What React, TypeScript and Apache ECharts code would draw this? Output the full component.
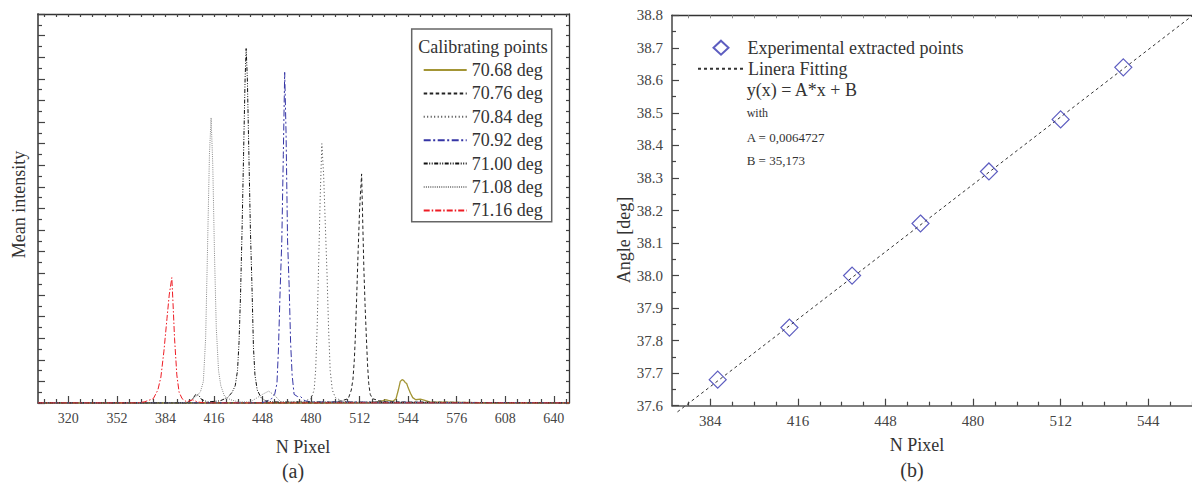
import React, { useEffect, useRef } from 'react';
import * as echarts from 'echarts';

const FONT = 'Liberation Serif';
const TXT = '#333';

// ---------- Panel (a): intensity profiles ----------
const seriesNamesA = ['70.68 deg', '70.76 deg', '70.84 deg', '70.92 deg', '71.00 deg', '71.08 deg', '71.16 deg'];

const x7068 = [300, 480, 520, 527, 529, 531, 534, 536, 537.5, 538.8, 540, 541, 542, 543, 544, 545.5, 547, 549, 552, 555, 558, 600, 650];
const y7068 = [0, 0, 0.02, 0.1, 0.15, 0.12, 0.08, 0.2, 0.6, 1.0, 1.08, 1.05, 0.95, 0.9, 0.7, 0.45, 0.25, 0.15, 0.18, 0.12, 0.05, 0, 0];

const x7076 = [300, 490, 495, 500, 504.5, 506.5, 507.6, 508.5, 509.2, 510, 511, 512, 513.3, 514, 514.8, 515.6, 516.4, 517.2, 518, 519, 520.5, 525, 530, 650];
const y7076 = [0, 0, 0.05, 0.1, 0.2, 0.6, 1.1, 2.0, 3.1, 4.8, 7.0, 9.0, 10.6, 8.5, 6.2, 4.5, 3.1, 1.8, 0.9, 0.4, 0.2, 0.1, 0.05, 0];

const x7084 = [300, 465, 470, 476, 480, 482, 483, 484, 485, 486, 487.1, 488.3, 489.5, 490.5, 491.5, 492.6, 494, 496, 500, 505, 650];
const y7084 = [0, 0, 0.05, 0.1, 0.2, 0.6, 1.5, 3.5, 6.5, 9.5, 12.0, 10.5, 8.0, 6.0, 3.5, 1.5, 0.6, 0.25, 0.1, 0.05, 0];

const x7092 = [300, 445, 450, 454, 456, 457.5, 458.5, 459.5, 460.7, 461.7, 462.6, 463.5, 464.5, 465.5, 466.5, 467.5, 468.8, 471, 473, 476, 480, 650];
const y7092 = [0, 0, 0.05, 0.2, 0.4, 0.9, 2.5, 5.0, 7.5, 11.5, 15.3, 12.5, 7.5, 5.5, 2.8, 1.3, 0.4, 0.3, 0.3, 0.1, 0.05, 0];

const x7100 = [300, 398, 402, 404, 406, 408, 412, 420, 425, 428, 430, 431.5, 432.5, 433.5, 434.5, 435.5, 436.5, 437.2, 438, 439, 440, 441, 442, 443, 444.5, 447, 450, 455, 650];
const y7100 = [0, 0, 0.2, 0.4, 0.35, 0.15, 0.05, 0.1, 0.25, 0.5, 0.8, 1.5, 2.8, 5.0, 8.0, 11.5, 15.0, 16.4, 15.0, 11.5, 8.0, 5.5, 2.6, 1.3, 0.6, 0.25, 0.1, 0.05, 0];

const x7108 = [300, 395, 400, 404, 407, 409, 410.5, 411.7, 413, 414.1, 415.2, 416.3, 417.5, 419, 420.5, 423, 427, 432, 440, 448, 452, 456, 460, 650];
const y7108 = [0, 0, 0.05, 0.3, 0.5, 1.0, 3.0, 7.0, 11.5, 13.2, 11.0, 7.0, 3.5, 1.5, 0.8, 0.3, 0.15, 0.05, 0.05, 0.4, 0.55, 0.35, 0.05, 0];

const x7116 = [300, 365, 370, 376, 379, 381, 383, 385, 386.5, 388.2, 389, 390, 391.5, 393, 395, 398, 402, 405, 410, 650];
const y7116 = [0, 0, 0.05, 0.2, 0.6, 1.2, 2.4, 3.9, 5.0, 5.8, 4.6, 3.0, 1.3, 0.5, 0.2, 0.05, 0.15, 0.05, 0, 0];

const xsA = [x7068, x7076, x7084, x7092, x7100, x7108, x7116];
const ysA = [y7068, y7076, y7084, y7092, y7100, y7108, y7116];
const colorsA = ['#a39535', '#222222', '#444444', '#3535a5', '#111111', '#888888', '#ee1c24'];
const dashesA: any[] = ['solid', [3.5, 2.5], [1, 2.5], [7, 2.5, 2, 2.5], [4, 1.5, 1, 1.5, 1, 1.5], [1, 1.2], [6, 2, 1.5, 2]];

const xTickLabelsA = [320, 352, 384, 416, 448, 480, 512, 544, 576, 608, 640];

// ---------- Panel (b): calibration ----------
const pixB = [386.7, 412.9, 435.8, 460.8, 485.8, 512.0, 534.9];
const angleB = [37.68, 37.84, 38.0, 38.16, 38.32, 38.48, 38.64];
const fitX = [372, 560];
const fitY = [37.581, 38.798];
const xTickLabelsB = [384, 416, 448, 480, 512, 544];

function eights(from: number, to: number, skip: number[]) {
  const r: number[] = [];
  for (let v = from; v <= to; v += 8) if (!skip.includes(v)) r.push(v);
  return r;
}

export default function App() {
  const ref = useRef<HTMLDivElement>(null);
  useEffect(() => {
    const chart = echarts.init(ref.current!, null, { renderer: 'svg' });

    const minorsA = eights(304, 648, xTickLabelsA);
    const allA = eights(304, 648, []);
    const minorsB = eights(376, 560, xTickLabelsB);
    const allB = eights(376, 560, []);

    const tickLS = { color: '#444', width: 1.2 };

    const seriesA = seriesNamesA.map((name, i) => ({
      name,
      type: 'line',
      xAxisIndex: 0,
      yAxisIndex: 0,
      data: xsA[i].map((x, j) => [x, ysA[i][j]]),
      symbol: 'none',
      lineStyle: { color: colorsA[i], width: i === 0 ? 1.3 : 1, type: dashesA[i] },
      itemStyle: { color: colorsA[i] },
      z: 3,
    }));

    const option: any = {
      animation: false,
      backgroundColor: '#fff',
      textStyle: { fontFamily: FONT },
      grid: [
        { left: 38, top: 14, width: 531, height: 389 },
        { left: 672, top: 15.3, width: 558.5, height: 390.4 },
      ],
      xAxis: [
        {
          gridIndex: 0, type: 'value', min: 300, max: 650, position: 'bottom',
          axisLine: { show: true, lineStyle: { color: '#555', width: 1.5 } },
          axisTick: { show: true, inside: true, length: 7, customValues: xTickLabelsA, lineStyle: tickLS },
          axisLabel: { customValues: xTickLabelsA, fontSize: 14, color: '#444', margin: 8, fontFamily: FONT },
          splitLine: { show: false },
        },
        {
          gridIndex: 0, type: 'value', min: 300, max: 650, position: 'bottom',
          axisLine: { show: false },
          axisTick: { show: true, inside: true, length: 4, customValues: minorsA, lineStyle: tickLS },
          axisLabel: { show: false }, splitLine: { show: false },
        },
        {
          gridIndex: 0, type: 'value', min: 300, max: 650, position: 'top',
          axisLine: { show: true, lineStyle: { color: '#333', width: 1.3 } },
          axisTick: { show: true, inside: true, length: 3, customValues: allA, lineStyle: tickLS },
          axisLabel: { show: false }, splitLine: { show: false },
        },
        {
          gridIndex: 1, type: 'value', min: 370, max: 560, position: 'bottom',
          axisLine: { show: true, lineStyle: { color: '#555', width: 1.5 } },
          axisTick: { show: true, inside: true, length: 7, customValues: xTickLabelsB, lineStyle: tickLS },
          axisLabel: { customValues: xTickLabelsB, fontSize: 15, color: '#444', margin: 8, fontFamily: FONT },
          splitLine: { show: false },
        },
        {
          gridIndex: 1, type: 'value', min: 370, max: 560, position: 'bottom',
          axisLine: { show: false },
          axisTick: { show: true, inside: true, length: 4, customValues: minorsB, lineStyle: tickLS },
          axisLabel: { show: false }, splitLine: { show: false },
        },
        {
          gridIndex: 1, type: 'value', min: 370, max: 560, position: 'top',
          axisLine: { show: true, lineStyle: { color: '#333', width: 1.3 } },
          axisTick: { show: true, inside: true, length: 3, customValues: allB, lineStyle: { color: '#888', width: 1 } },
          axisLabel: { show: false }, splitLine: { show: false },
        },
      ],
      yAxis: [
        {
          gridIndex: 0, type: 'value', min: 0, max: 18, interval: 1, position: 'left',
          axisLine: { show: true, lineStyle: { color: '#666', width: 2 } },
          axisTick: { show: true, inside: true, length: 7, lineStyle: tickLS },
          minorTick: { show: true, splitNumber: 2, length: 4, lineStyle: tickLS },
          axisLabel: { show: false }, splitLine: { show: false },
        },
        {
          gridIndex: 0, type: 'value', min: 0, max: 18, interval: 0.5, position: 'right',
          axisLine: { show: true, lineStyle: { color: '#333', width: 1.3 } },
          axisTick: { show: true, inside: true, length: 3, lineStyle: tickLS },
          axisLabel: { show: false }, splitLine: { show: false },
        },
        {
          gridIndex: 1, type: 'value', min: 37.6, max: 38.8, interval: 0.1, position: 'left',
          axisLine: { show: true, lineStyle: { color: '#444', width: 1.5 } },
          axisTick: { show: true, inside: true, length: 7, lineStyle: tickLS },
          minorTick: { show: true, splitNumber: 2, length: 4, lineStyle: tickLS },
          axisLabel: { fontSize: 15, color: '#444', margin: 9, fontFamily: FONT, formatter: (v: number) => v.toFixed(1) },
          splitLine: { show: false },
        },
      ],
      legend: [
        {
          data: seriesNamesA,
          orient: 'vertical', left: 417.7, top: 56,
          itemWidth: 43, itemHeight: 12, itemGap: 5.4,
          selectedMode: false,
          itemStyle: { opacity: 0 },
          textStyle: { fontSize: 18, lineHeight: 18, color: TXT, fontFamily: FONT },
          z: 5,
        },
        {
          data: ['Experimental extracted points'],
          orient: 'vertical', left: 707.5, top: 33.7,
          itemWidth: 15, itemHeight: 14, itemGap: 3.6,
          selectedMode: false,
          textStyle: { fontSize: 18, lineHeight: 18, color: TXT, fontFamily: FONT, padding: [0, 0, 0, 14] },
        },
        {
          data: ['Linera Fitting'],
          orient: 'vertical', left: 692, top: 54.8,
          itemWidth: 45, itemHeight: 14, itemGap: 3.6,
          selectedMode: false,
          itemStyle: { opacity: 0 },
          textStyle: { fontSize: 18, lineHeight: 18, color: TXT, fontFamily: FONT },
        },
      ],
      series: [
        ...seriesA,
        {
          name: 'Linera Fitting', type: 'line', xAxisIndex: 3, yAxisIndex: 2,
          data: fitX.map((x, i) => [x, fitY[i]]),
          symbol: 'none', clip: false,
          lineStyle: { color: '#333', width: 1, type: [3, 3] },
          itemStyle: { color: '#333' },
        },
        {
          name: 'Experimental extracted points', type: 'scatter', xAxisIndex: 3, yAxisIndex: 2,
          data: pixB.map((x, i) => [x, angleB[i]]),
          symbol: 'diamond', symbolSize: 17,
          itemStyle: { color: 'rgba(255,255,255,0)', borderColor: '#3434b0', borderWidth: 1.2 },
          z: 4,
        },
      ],
      graphic: [
        { type: 'rect', z: 1, shape: { x: 411.7, y: 29, width: 140, height: 192.7 }, style: { fill: '#fff', stroke: '#666', lineWidth: 1.5 } },
        { type: 'text', z: 5, x: 418.3, y: 46.7, style: { text: 'Calibrating points', font: `18px ${FONT}`, fill: TXT, verticalAlign: 'middle' } },
        { type: 'text', x: 19, y: 204.5, rotation: Math.PI / 2, style: { text: 'Mean intensity', font: `18px ${FONT}`, fill: TXT, align: 'center', verticalAlign: 'middle' } },
        { type: 'text', x: 303, y: 447, style: { text: 'N Pixel', font: `18px ${FONT}`, fill: TXT, align: 'center', verticalAlign: 'middle' } },
        { type: 'text', x: 293, y: 471, style: { text: '(a)', font: `20px ${FONT}`, fill: TXT, align: 'center', verticalAlign: 'middle' } },
        { type: 'text', x: 624, y: 240, rotation: Math.PI / 2, style: { text: 'Angle [deg]', font: `18px ${FONT}`, fill: TXT, align: 'center', verticalAlign: 'middle' } },
        { type: 'text', x: 917, y: 445, style: { text: 'N Pixel', font: `18px ${FONT}`, fill: TXT, align: 'center', verticalAlign: 'middle' } },
        { type: 'text', x: 912, y: 470, style: { text: '(b)', font: `20px ${FONT}`, fill: TXT, align: 'center', verticalAlign: 'middle' } },
        { type: 'text', x: 746.7, y: 90, style: { text: 'y(x) = A*x + B', font: `18px ${FONT}`, fill: TXT, verticalAlign: 'middle' } },
        { type: 'text', x: 746.7, y: 113, style: { text: 'with', font: `12px ${FONT}`, fill: TXT, verticalAlign: 'middle' } },
        { type: 'text', x: 746.7, y: 137, style: { text: 'A = 0,0064727', font: `13px ${FONT}`, fill: TXT, verticalAlign: 'middle' } },
        { type: 'text', x: 746.7, y: 160, style: { text: 'B = 35,173', font: `13px ${FONT}`, fill: TXT, verticalAlign: 'middle' } },
      ],
    };

    chart.setOption(option);
    return () => chart.dispose();
  }, []);
  return <div ref={ref} style={{ position: 'absolute', left: 0, top: 0, width: 1192, height: 488, background: '#fff' }} />;
}
